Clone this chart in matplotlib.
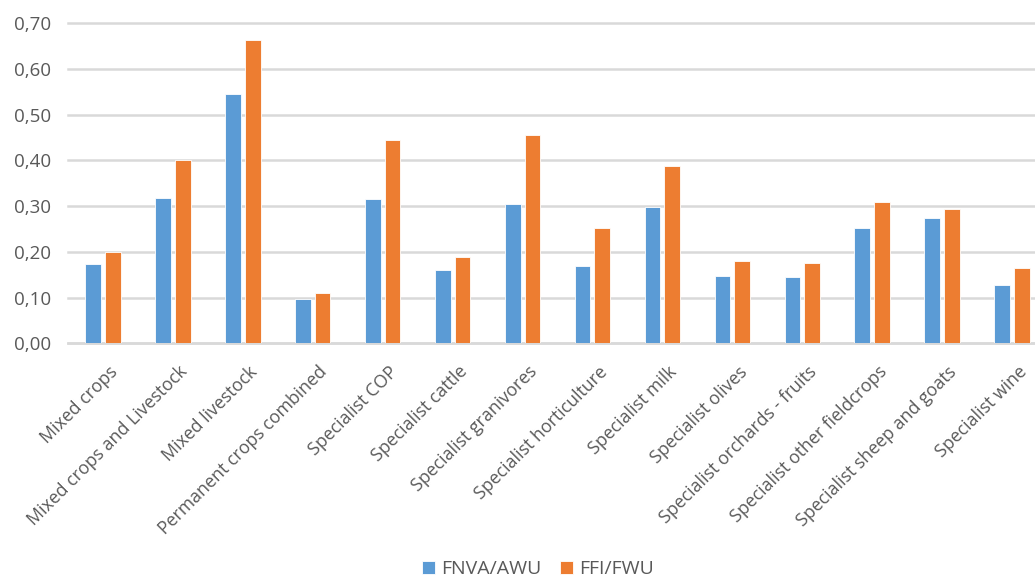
import matplotlib
matplotlib.use("Agg")
import matplotlib.pyplot as plt
import numpy as np
from matplotlib.ticker import FuncFormatter, MultipleLocator

categories = [
    "Mixed crops", "Mixed crops and Livestock", "Mixed livestock",
    "Permanent crops combined", "Specialist COP", "Specialist cattle",
    "Specialist granivores", "Specialist horticulture", "Specialist milk",
    "Specialist olives", "Specialist orchards - fruits",
    "Specialist other fieldcrops", "Specialist sheep and goats",
    "Specialist wine",
]
fnva_awu = [0.174, 0.317, 0.546, 0.097, 0.315, 0.160, 0.305,
            0.168, 0.299, 0.147, 0.146, 0.252, 0.274, 0.127]
ffi_fwu = [0.199, 0.402, 0.664, 0.110, 0.445, 0.189, 0.455,
           0.252, 0.388, 0.181, 0.176, 0.310, 0.294, 0.165]
series_names = ["FNVA/AWU", "FFI/FWU"]

plt.rcParams["font.family"] = ["Open Sans", "DejaVu Sans"]

W, H = 1035, 579
fig = plt.figure(figsize=(W / 100, H / 100), dpi=100)
left_px, right_px, top_px, bottom_px = 68, 1047, 23.3, 343.3
ax = fig.add_axes([left_px / W, 1 - bottom_px / H,
                   (right_px - left_px) / W, (bottom_px - top_px) / H])

blue = "#5B9BD5"
orange = "#ED7D31"
grid_c = "#D9D9D9"
text_c = "#595959"

x = np.arange(len(categories))
w = 0.225
off = 0.141
ax.bar(x - off, fnva_awu, width=w, color=blue, edgecolor="white",
       linewidth=0.6, label=series_names[0], zorder=3)
ax.bar(x + off, ffi_fwu, width=w, color=orange, edgecolor="white",
       linewidth=0.6, label=series_names[1], zorder=3)

ax.set_xlim(-0.5, len(categories) - 0.5)
ax.set_ylim(0, 0.70)
ax.yaxis.set_major_locator(MultipleLocator(0.10))
ax.yaxis.set_major_formatter(FuncFormatter(lambda v, p: f"{v:.2f}".replace(".", ",")))
ax.grid(axis="y", color=grid_c, linewidth=1.8, zorder=0)
for gl in ax.get_ygridlines():
    gl.set_clip_on(False)
ax.set_axisbelow(True)

for s in ["top", "right", "left"]:
    ax.spines[s].set_visible(False)
ax.spines["bottom"].set_color(grid_c)
ax.spines["bottom"].set_linewidth(1.8)

ax.tick_params(axis="y", length=0, pad=12, labelsize=13.5, labelcolor=text_c)
ax.tick_params(axis="x", length=0, pad=14)
ax.set_xticks(x + 0.08)
ax.set_xticklabels(categories, rotation=45, ha="right", va="top",
                   rotation_mode="anchor", fontsize=12.8, color=text_c)

leg = fig.legend(loc="center", bbox_to_anchor=(538 / W, 1 - 569 / H),
                 ncol=2, frameon=False, fontsize=14, handlelength=0.65,
                 handleheight=0.65, handletextpad=0.3, columnspacing=1.0)
for t in leg.get_texts():
    t.set_color(text_c)

fig.savefig("out.png", dpi=100)
